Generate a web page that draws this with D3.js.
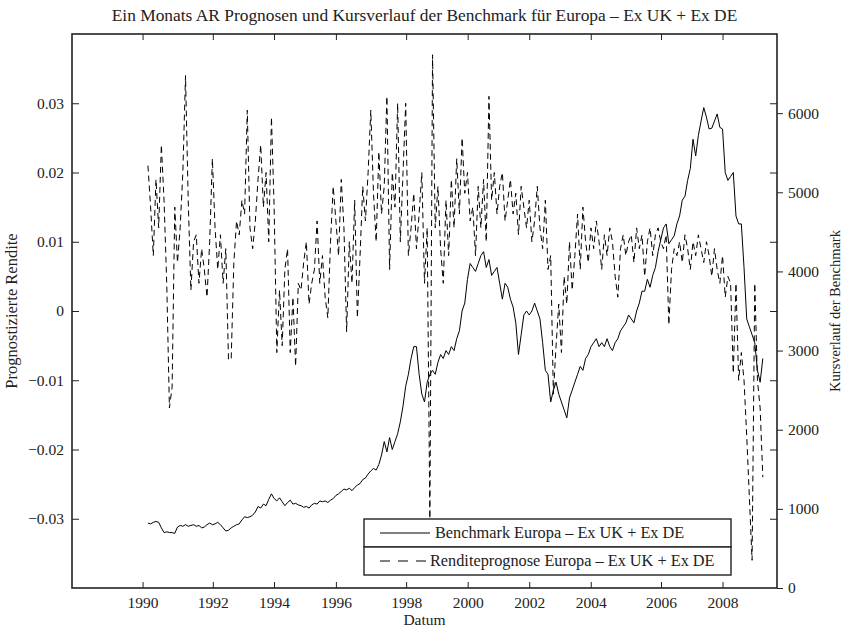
<!DOCTYPE html>
<html>
<head>
<meta charset="utf-8">
<script src="https://cdn.jsdelivr.net/npm/d3@7"></script>
<style>
    body { margin: 0; background: #fff; }
    svg { display: block; font-family: "Liberation Serif", "Times New Roman", serif; }
    .axis text { fill: #222; font-size: 15.5px; font-family: "Liberation Serif", "Times New Roman", serif; }
    .axis line { stroke: #222; stroke-width: 1; }
    .axis path { display: none; }
</style>
</head>
<body>
<div class="dm-container-graph"></div>
<script>

var title = "Ein Monats AR Prognosen und Kursverlauf der Benchmark für Europa – Ex UK + Ex DE"
var xLabel = "Datum"
var leftLabel = "Prognostizierte Rendite"
var rightLabel = "Kursverlauf der Benchmark"
var legendLabels = ["Benchmark Europa – Ex UK + Ex DE", "Renditeprognose Europa – Ex UK + Ex DE"]

// monthly data, first value = March 1990
var startYear = 1990, startMonth = 3

var benchmark = [
    820, 810, 830, 840, 830, 760, 700, 710, 700, 700,
    690, 770, 790, 780, 800, 780, 790, 800, 780, 790, 760, 770,
    800, 820, 800, 810, 830, 800, 760, 720, 730, 760, 780, 800,
    810, 860, 900, 890, 900, 920, 960, 1030, 1010, 1060, 1040, 1120,
    1190, 1130, 1100, 1140, 1090, 1040, 1080, 1110, 1060, 1070, 1050, 1040,
    1020, 1030, 1010, 1050, 1070, 1060, 1100, 1090, 1100, 1080, 1110, 1130,
    1170, 1190, 1220, 1250, 1240, 1260, 1230, 1270, 1300, 1320, 1370, 1390,
    1440, 1480, 1510, 1490, 1560, 1680, 1850, 1720, 1900, 1750, 1850, 1950,
    2100, 2300, 2550, 2700, 2900, 3050, 3050, 2700, 2450, 2350, 2600, 2700,
    2750, 2700, 2850, 2950, 2900, 3000, 2950, 3050, 3000, 3150, 3250, 3500,
    3600, 3900, 4100, 4050, 4000, 4100, 4200, 4250, 4050, 4150, 3950, 4000,
    4050, 3850, 3650, 3850, 3800, 3650, 3550, 3350, 2950, 3200, 3450, 3500,
    3450, 3500, 3600, 3500, 3400, 3100, 2750, 2700, 2350, 2500, 2600, 2450,
    2350, 2250, 2150, 2400, 2500, 2600, 2700, 2800, 2750, 2900, 2950, 3050,
    3100, 3150, 3050, 3100, 3050, 3150, 3050, 3000, 3100, 3150, 3250, 3300,
    3350, 3450, 3400, 3350, 3500, 3600, 3750, 3750, 3900, 3800, 3950, 4050,
    4250, 4400, 4550, 4600, 4350, 4400, 4450, 4600, 4700, 4900, 4950, 5150,
    5300, 5670, 5460, 5720, 5900, 6070, 5950, 5800, 5810, 5900, 5990, 5820,
    5800, 5250, 5150, 5200, 5250, 4700, 4600, 4600, 4050, 3400, 3300, 3200,
    3100, 2750, 2600, 2900
]

var forecast = [
    0.021, 0.015, 0.008, 0.019, 0.012, 0.024, 0.016, 0.004, -0.014, -0.011,
    0.015, 0.007, 0.012, 0.020, 0.034, 0.016, 0.003, 0.010, 0.011, 0.004, 0.009, 0.006,
    0.002, 0.010, 0.022, 0.012, 0.006, 0.011, 0.004, 0.009, -0.007, -0.007, 0.007, 0.013,
    0.011, 0.016, 0.014, 0.029, 0.012, 0.009, 0.013, 0.019, 0.024, 0.015, 0.020, 0.010,
    0.028, 0.015, -0.006, 0.003, -0.005, 0.006, 0.009, -0.006, 0.002, -0.008, 0.004, 0.003,
    0.007, 0.010, 0.001, 0.004, 0.006, 0.013, 0.004, 0.008, 0.002, -0.001, 0.010, 0.018,
    0.013, 0.008, 0.019, 0.012, -0.003, 0.010, 0.004, 0.016, -0.001, 0.008, 0.018, 0.013,
    0.020, 0.029, 0.017, 0.010, 0.023, 0.014, 0.018, 0.031, 0.006, 0.020, 0.015, 0.030,
    0.010, 0.020, 0.030, 0.008, 0.012, 0.017, 0.009, 0.014, 0.020, 0.004, 0.012, -0.030,
    0.037, 0.012, 0.018, 0.009, 0.004, 0.016, 0.008, 0.019, 0.012, 0.022, 0.014, 0.025,
    0.017, 0.020, 0.013, 0.015, 0.008, 0.018, 0.012, 0.019, 0.010, 0.031, 0.016, 0.020,
    0.014, 0.018, 0.020, 0.013, 0.016, 0.019, 0.014, 0.017, 0.011, 0.018, 0.015, 0.012,
    0.016, 0.010, 0.013, 0.018, 0.012, 0.009, 0.016, 0.006, 0.008, -0.012, -0.005, 0.001,
    -0.006, 0.005, 0.001, 0.010, 0.003, 0.008, 0.014, 0.006, 0.015, 0.010, 0.007, 0.012,
    0.009, 0.013, 0.010, 0.006, 0.011, 0.008, 0.012, 0.010, 0.005, 0.002, 0.009, 0.011,
    0.008, 0.010, 0.011, 0.007, 0.012, 0.009, 0.011, 0.005, 0.010, 0.012, 0.008, 0.011,
    0.012, 0.010, 0.009, 0.011, -0.002, 0.006, 0.009, 0.008, 0.010, 0.007, 0.011, 0.009,
    0.006, 0.010, 0.008, 0.011, 0.009, 0.007, 0.010, 0.008, 0.005, 0.009, 0.006, 0.004,
    0.008, 0.002, 0.005, 0.004, -0.009, 0.004, -0.010, -0.006, -0.010, -0.018, -0.027, -0.036,
    0.004, -0.010, -0.014, -0.024
]

// the date ticks of the original sit slightly off the year starts
var xTickLabels = ["1990", "1992", "1994", "1996", "1998", "2000", "2002", "2004", "2006", "2008"]
var xTickAt = [1990.0, 1992.18, 1994.08, 1996.0, 1998.18, 2000.09, 2002.0, 2003.91, 2006.09, 2008.0]
var xDomain = [1987.81, 2009.69]

var leftTicks = [-0.03, -0.02, -0.01, 0, 0.01, 0.02, 0.03]
var leftDomain = [-0.04, 0.04]
var rightTicks = [0, 1000, 2000, 3000, 4000, 5000, 6000]
var rightDomain = [0, 7000]


var width = 844, height = 632
var margin = { top: 34, left: 72, bottom: 44, right: 67 }
var chartWidth = width - (margin.left + margin.right)
var chartHeight = height - (margin.top + margin.bottom)

var svg = d3.select(".dm-container-graph").append("svg")
    .attr("width", width).attr("height", height)

svg.append("rect").attr("width", width).attr("height", height).attr("fill", "#fff")

var chartLayer = svg.append("g")
    .attr("transform", "translate(" + [margin.left, margin.top] + ")")

var x = d3.scaleLinear().domain(xDomain).range([0, chartWidth])
var yLeft = d3.scaleLinear().domain(leftDomain).range([chartHeight, 0])
var yRight = d3.scaleLinear().domain(rightDomain).range([chartHeight, 0])

function monthToYear(i) {
    return startYear + (startMonth - 1 + i) / 12
}

drawAxis()
drawChart()
drawLegend()
drawLabels()


function drawAxis() {

    var xTickMap = {}
    xTickAt.forEach(function(d, i) { xTickMap[d] = xTickLabels[i] })

    chartLayer.append("g").attr("class", "axis x")
        .attr("transform", "translate(0," + chartHeight + ")")
        .call(d3.axisBottom(x).tickValues(xTickAt).tickSize(-6).tickPadding(9)
            .tickFormat(function(d) { return xTickMap[d] }))

    chartLayer.append("g").attr("class", "axis x")
        .call(d3.axisTop(x).tickValues(xTickAt).tickSize(-6).tickFormat(""))

    var fmt = d3.format(".2f")
    chartLayer.append("g").attr("class", "axis yl")
        .call(d3.axisLeft(yLeft).tickValues(leftTicks).tickSize(-7).tickPadding(8)
            .tickFormat(function(d) { return d === 0 ? "0" : fmt(d) }))

    chartLayer.append("g").attr("class", "axis yl")
        .attr("transform", "translate(" + chartWidth + ",0)")
        .call(d3.axisRight(yLeft).tickValues(leftTicks).tickSize(-7).tickFormat(""))

    chartLayer.append("g").attr("class", "axis yr")
        .attr("transform", "translate(" + chartWidth + ",0)")
        .call(d3.axisRight(yRight).tickValues(rightTicks).tickSize(6).tickPadding(5)
            .tickFormat(d3.format("d")))

    chartLayer.append("rect")
        .attr("width", chartWidth).attr("height", chartHeight)
        .attr("fill", "none").attr("stroke", "#222").attr("stroke-width", 1.6)
}

function drawChart() {

    var benchLine = d3.line()
        .x(function(d, i) { return x(monthToYear(i)) })
        .y(function(d) { return yRight(d) })

    var forecastLine = d3.line()
        .x(function(d, i) { return x(monthToYear(i)) })
        .y(function(d) { return yLeft(d) })

    chartLayer.append("path")
        .datum(forecast)
        .attr("d", forecastLine)
        .attr("fill", "none").attr("stroke", "#000").attr("stroke-width", 1)
        .attr("stroke-dasharray", "6,4")

    chartLayer.append("path")
        .datum(benchmark)
        .attr("d", benchLine)
        .attr("fill", "none").attr("stroke", "#000").attr("stroke-width", 1)
}

function drawLegend() {

    var lg = svg.append("g").attr("transform", "translate(364,519)")
    var rowH = 28
    var dashes = [null, "10,8"]

    legendLabels.forEach(function(label, i) {
        var row = lg.append("g").attr("transform", "translate(0," + (i * rowH) + ")")
        row.append("rect").attr("width", 367).attr("height", rowH)
            .attr("fill", "#fff").attr("stroke", "#222").attr("stroke-width", 1.4)
        row.append("line").attr("x1", 16).attr("x2", i === 0 ? 66 : 63).attr("y1", rowH / 2).attr("y2", rowH / 2)
            .attr("stroke", "#000").attr("stroke-width", 1)
            .attr("stroke-dasharray", dashes[i])
        row.append("text").attr("x", i === 0 ? 71 : 66).attr("y", rowH / 2 + 5)
            .attr("font-size", 16.3).attr("fill", "#222")
            .text(label)
    })
}

function drawLabels() {

    svg.append("text")
        .attr("x", margin.left + chartWidth / 2).attr("y", 21)
        .attr("text-anchor", "middle").attr("font-size", 17.4).attr("fill", "#222")
        .text(title)

    svg.append("text")
        .attr("x", margin.left + chartWidth / 2).attr("y", 625)
        .attr("text-anchor", "middle").attr("font-size", 15.5).attr("fill", "#222")
        .text(xLabel)

    svg.append("text")
        .attr("transform", "translate(17," + (margin.top + chartHeight / 2) + ") rotate(-90)")
        .attr("text-anchor", "middle").attr("font-size", 16.5).attr("fill", "#222")
        .text(leftLabel)

    svg.append("text")
        .attr("transform", "translate(840," + (margin.top + chartHeight / 2) + ") rotate(-90)")
        .attr("text-anchor", "middle").attr("font-size", 14.5).attr("fill", "#222")
        .text(rightLabel)
}

</script>
</body>
</html>
